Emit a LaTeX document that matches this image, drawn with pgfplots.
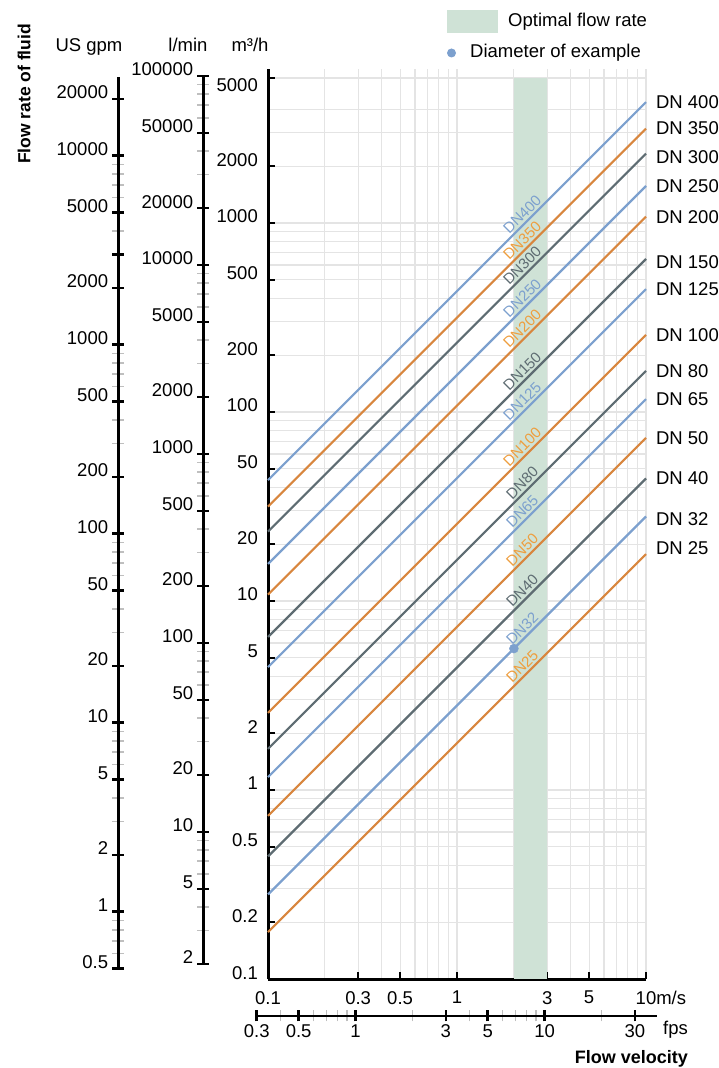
\documentclass[border=0pt]{standalone}
\usepackage{fontspec}
\setmainfont{Liberation Sans}
\usepackage{pgfplots}
\pgfplotsset{compat=1.18}

\definecolor{dnblue}{RGB}{124,160,206}
\definecolor{dnorange}{RGB}{216,134,62}
\definecolor{dngray}{RGB}{94,108,114}
\definecolor{lblorange}{RGB}{238,158,62}
\definecolor{bandgreen}{RGB}{207,226,214}
\definecolor{gridgray}{RGB}{228,228,228}

\newcommand\lbl{\fontsize{18.5}{21}\selectfont}
\newcommand\dnf{\fontsize{15}{17}\selectfont}

\tikzset{
  dn/.style={pos=0.688, sloped, anchor=south, inner sep=0pt, outer sep=3pt, font=\dnf},
  dnend/.style={pos=1, anchor=west, inner sep=0pt, xshift=9pt, text=black},
}

\begin{document}
\begin{tikzpicture}[font=\lbl]
\useasboundingbox (0pt,0pt) rectangle (719pt,1068pt);

% US gpm scale
\begin{axis}[scale only axis, at={(118.3pt,99.4pt)}, anchor=south west, width=20pt, height=891.8pt,
    ymode=log, xmin=0, xmax=1, ymin=0.5, ymax=26170,
    hide x axis, axis y line*=left, axis line style={line width=3pt,-},
    tick align=center, major tick length=12pt, minor tick length=12pt,
    major tick style={black, line width=2.5pt},
    minor tick style={black!25, line width=1.5pt},
    yticklabel style={anchor=base east, inner sep=0pt, xshift=-4pt, font=\lbl},
    ytick={0.5,1,2,5,10,20,50,100,200,500,1000,2000,3000,5000,10000,20000},
    yticklabels={0.5,1,2,5,10,20,50,100,200,500,1000,2000,,5000,10000,20000},
    minor ytick={0.6,0.7,0.8,0.9,3,4,6,7,8,9,30,40,60,70,80,90,300,400,600,700,800,900,4000,6000,7000,8000,9000}]
\addplot[draw=none] coordinates {(0.5,1)};
\end{axis}

% l/min scale
\begin{axis}[scale only axis, at={(203.3pt,104pt)}, anchor=south west, width=20pt, height=888.1pt,
    ymode=log, xmin=0, xmax=1, ymin=2, ymax=100000,
    hide x axis, axis y line*=left, axis line style={line width=3pt,-},
    tick align=center, major tick length=12pt, minor tick length=12pt,
    major tick style={black, line width=2.5pt},
    minor tick style={black!25, line width=1.5pt},
    yticklabel style={anchor=base east, inner sep=0pt, xshift=-4pt, font=\lbl},
    ytick={2,5,10,20,50,100,200,500,1000,2000,5000,10000,20000,50000,100000},
    yticklabels={2,5,10,20,50,100,200,500,1000,2000,5000,10000,20000,50000,100000},
    minor ytick={3,4,6,7,8,9,30,40,60,70,80,90,300,400,600,700,800,900,3000,4000,6000,7000,8000,9000,30000,40000,60000,70000,80000,90000}]
\addplot[draw=none] coordinates {(0.5,10)};
\end{axis}

% fps scale
\begin{axis}[scale only axis, at={(256.7pt,52pt)}, anchor=south west, width=400pt, height=20pt,
    xmode=log, xmin=0.3, xmax=39.14, ymin=0, ymax=1,
    axis y line=none, axis x line*=bottom, axis line style={line width=1.5pt,-},
    xtick={0.3,0.5,1,3,5,10,30}, xticklabels={0.3,0.5,1,3,5,10,30},
    minor xtick={0.4,0.6,0.7,0.8,0.9,2,4,6,7,8,9,20},
    tick align=center, major tick length=11pt, minor tick length=11pt,
    major tick style={black, line width=2.5pt},
    minor tick style={black!25, line width=1.2pt},
    xticklabel style={anchor=north, inner sep=0pt, yshift=-3pt, font=\lbl}]
\addplot[draw=none] coordinates {(1,0.5)};
\end{axis}

% main chart, m3/h against m/s
\begin{axis}[scale only axis, at={(268pt,89pt)}, anchor=south west, width=378pt, height=910pt,
    xmode=log, ymode=log, xmin=0.1, xmax=10, ymin=0.1, ymax=6529,
    axis lines=left, axis line style={line width=3pt,-}, clip=false,
    xtick={0.1,0.3,0.5,1,3,5,10}, xticklabels={0.1,0.3,0.5,1,3,5,10\rlap{m/s}},
    minor xtick={0.2,0.4,0.6,0.7,0.8,0.9,2,4,6,7,8,9},
    ytick={0.1,0.2,0.5,1,2,5,10,20,50,100,200,500,1000,2000},
    yticklabels={0.1,0.2,0.5,1,2,5,10,20,50,100,200,500,1000,2000},
    minor ytick={0.3,0.4,0.6,0.7,0.8,0.9,3,4,6,7,8,9,30,40,60,70,80,90,300,400,600,700,800,900,3000,4000},
    extra y ticks={5850}, extra y tick labels={5000},
    extra y tick style={grid=major, yticklabel style={anchor=north east}},
    grid=both, grid style={gridgray, line width=1.2pt},
    tick align=inside, major tick length=7pt, minor tick length=0pt,
    major tick style={black, line width=2.5pt},
    xticklabel style={anchor=north, inner sep=0pt, yshift=-12pt, font=\lbl},
    yticklabel style={anchor=base east, inner sep=0pt, xshift=-10pt, font=\lbl}]

\addplot[fill=bandgreen, draw=none] coordinates {(2,0.1) (2,5850) (3,5850) (3,0.1)} -- cycle;

\addplot[dnblue, line width=2.2pt] coordinates {(0.1,43.6) (10,4360)}
  node[dn, text=dnblue] {DN400} node[dnend] {DN 400};
\addplot[dnorange, line width=2.2pt] coordinates {(0.1,31.6) (10,3160)}
  node[dn, text=lblorange] {DN350} node[dnend] {DN 350};
\addplot[dngray, line width=2.2pt] coordinates {(0.1,23.3) (10,2330)}
  node[dn, text=dngray] {DN300} node[dnend, yshift=-4pt] {DN 300};
\addplot[dnblue, line width=2.2pt] coordinates {(0.1,15.7) (10,1570)}
  node[dn, text=dnblue] {DN250} node[dnend] {DN 250};
\addplot[dnorange, line width=2.2pt] coordinates {(0.1,10.8) (10,1080)}
  node[dn, text=lblorange] {DN200} node[dnend] {DN 200};
\addplot[dngray, line width=2.2pt] coordinates {(0.1,6.45) (10,645)}
  node[dn, text=dngray] {DN150} node[dnend, yshift=-3pt] {DN 150};
\addplot[dnblue, line width=2.2pt] coordinates {(0.1,4.47) (10,447)}
  node[dn, text=dnblue] {DN125} node[dnend] {DN 125};
\addplot[dnorange, line width=2.2pt] coordinates {(0.1,2.56) (10,256)}
  node[dn, text=lblorange] {DN100} node[dnend] {DN 100};
\addplot[dngray, line width=2.2pt] coordinates {(0.1,1.65) (10,165)}
  node[dn, text=dngray] {DN80} node[dnend] {DN 80};
\addplot[dnblue, line width=2.2pt] coordinates {(0.1,1.17) (10,117)}
  node[dn, text=dnblue] {DN65} node[dnend] {DN 65};
\addplot[dnorange, line width=2.2pt] coordinates {(0.1,0.73) (10,73)}
  node[dn, text=lblorange] {DN50} node[dnend] {DN 50};
\addplot[dngray, line width=2.2pt] coordinates {(0.1,0.445) (10,44.5)}
  node[dn, text=dngray] {DN40} node[dnend] {DN 40};
\addplot[dnblue, line width=2.2pt] coordinates {(0.1,0.28) (10,28)}
  node[dn, text=dnblue] {DN32} node[dnend, yshift=-3pt] {DN 32};
\addplot[dnorange, line width=2.2pt] coordinates {(0.1,0.177) (10,17.7)}
  node[dn, text=lblorange] {DN25} node[dnend, yshift=6pt] {DN 25};

% example point
\addplot[only marks, mark=*, mark size=4.5pt, dnblue] coordinates {(2,5.6)};
\end{axis}

% headers and titles
\node[anchor=base] at (89pt,1016.5pt) {US gpm};
\node[anchor=base] at (188pt,1016.5pt) {l/min};
\node[anchor=base] at (250pt,1016.5pt) {m³/h};
\node[rotate=90, font=\fontsize{17.5}{20}\selectfont\bfseries] at (24pt,974pt) {Flow rate of fluid};
\node[anchor=base west, inner sep=0pt] at (663pt,33pt) {fps};
\node[anchor=base east, inner sep=0pt, font=\fontsize{18}{21}\selectfont\bfseries] at (688pt,5pt) {Flow velocity};

% legend
\fill[bandgreen] (447pt,1035pt) rectangle (498pt,1058pt);
\node[anchor=west, inner sep=0pt] at (508pt,1046pt) {Optimal flow rate};
\fill[dnblue] (451.5pt,1015pt) circle (4.5pt);
\node[anchor=west, inner sep=0pt] at (470pt,1015pt) {Diameter of example};
\end{tikzpicture}
\end{document}
